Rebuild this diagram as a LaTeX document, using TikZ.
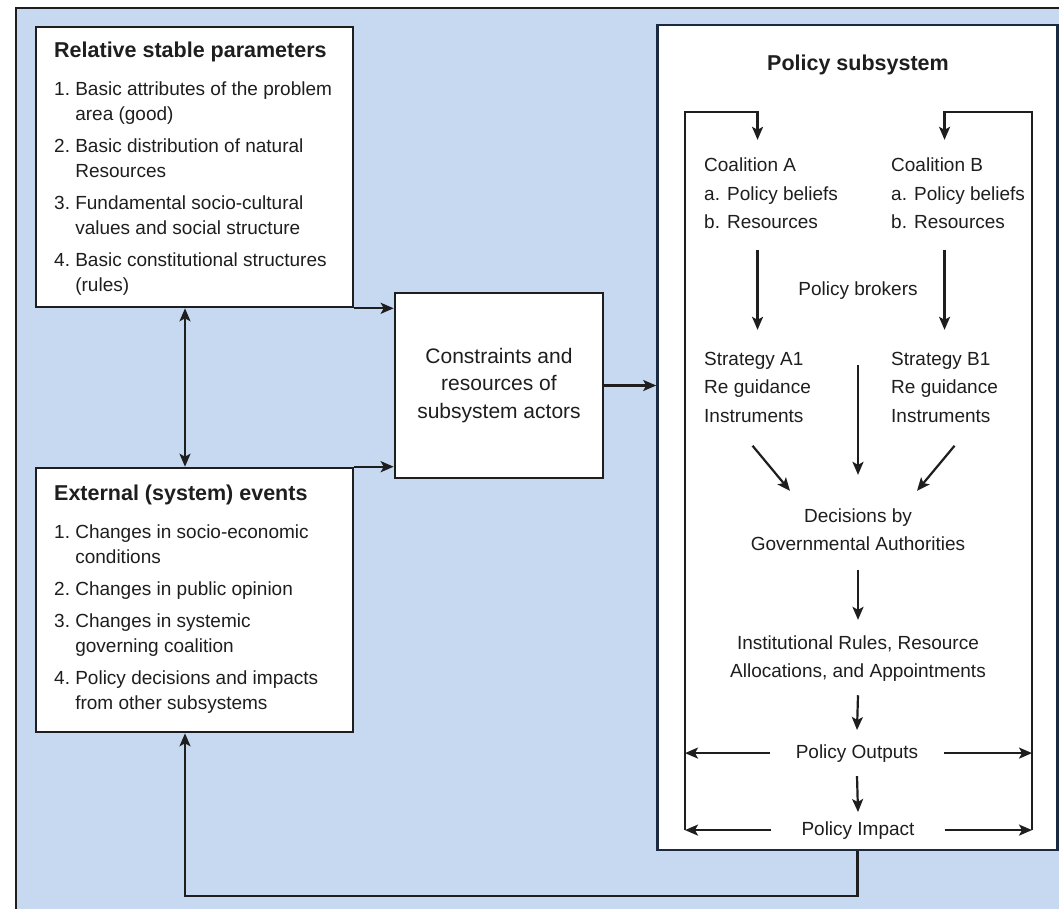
\documentclass[tikz,border=0pt]{standalone}
\usepackage{fontspec}
\setmainfont{Liberation Sans}
\usepackage{xcolor}
\usepackage{tikz}
\usetikzlibrary{arrows.meta}
\definecolor{bgblue}{HTML}{C6D9F1}
\definecolor{ink}{HTML}{1E1E1E}
\definecolor{navy}{HTML}{1B2A41}
\tikzset{
	box/.style={draw=ink, line width=2.6pt, fill=white},
	boxtitle/.style={font=\fontsize{21.5}{26}\selectfont\bfseries, text=ink, inner sep=0pt},
	boxitems/.style={font=\fontsize{19}{25}\selectfont, text=ink, inner sep=0pt},
	flowtxt/.style={font=\fontsize{19}{28.5}\selectfont, text=ink, inner xsep=0pt, inner ysep=9pt},
	link/.style={color=ink, line width=2.2pt, ->},
}
\newcommand{\leftcol}[1]{\begin{tabular}[t]{@{}l@{}}#1\end{tabular}}
\newcommand{\midcol}[1]{\begin{tabular}[t]{@{}c@{}}#1\end{tabular}}
\newcommand{\numlist}[1]{\begin{tabular}[t]{@{}l@{\ }l@{}}#1\end{tabular}}

\begin{document}
\begin{tikzpicture}[x=1pt, y=-1pt, >={Stealth[length=13pt,width=11pt,inset=3pt]}]
		\useasboundingbox (0,0) rectangle (1059,909);
		\fill[bgblue] (16,8) rectangle (1059,909);
		\draw[ink, line width=2pt] (16,909) -- (16,8) -- (1059,8);
		%
		\node[box, minimum width=317, minimum height=280] (RSP) at (194.5,167) {};
		\node[boxtitle, anchor=base west] (RSPt) at (54,58) {Relative stable parameters};
		\node[boxitems, anchor=base west] (RSPl) at (54,96) {\numlist{1. & Basic attributes of the problem\\ & area (good)\\[7pt] 2. & Basic distribution of natural\\ & Resources\\[7pt] 3. & Fundamental socio-cultural\\ & values and social structure\\[7pt] 4. & Basic constitutional structures\\ & (rules)}};
		%
		\node[box, minimum width=317, minimum height=264] (EXT) at (194.5,600) {};
		\node[boxtitle, anchor=base west] (EXTt) at (54,500) {External (system) events};
		\node[boxitems, anchor=base west] (EXTl) at (54,538) {\numlist{1. & Changes in socio-economic\\ & conditions\\[7pt] 2. & Changes in public opinion\\[7pt] 3. & Changes in systemic\\ & governing coalition\\[7pt] 4. & Policy decisions and impacts\\ & from other subsystems}};
		%
		\node[box, minimum width=208, minimum height=185, font=\fontsize{21}{27.5}\selectfont, text=ink, align=center] (CRS) at (499,385.5) {Constraints and\\resources of\\subsystem actors};
		%
		\node[box, draw=navy, minimum width=400, minimum height=825] (PS) at (857.5,437.5) {};
		\node[boxtitle, anchor=base] (PSt) at (858,71) {Policy subsystem};
		\node[flowtxt, anchor=base west, inner ysep=12pt] (CA) at (704,172) {\leftcol{Coalition A\\ a. Policy beliefs\\ b. Resources}};
		\node[flowtxt, anchor=base west, inner ysep=12pt] (CB) at (891,172) {\leftcol{Coalition B\\ a. Policy beliefs\\ b. Resources}};
		\node[flowtxt, anchor=base] (PB) at (858,295) {Policy brokers};
		\node[flowtxt, anchor=base west, inner ysep=15pt] (SA) at (704,365) {\leftcol{Strategy A1\\ Re guidance\\ Instruments}};
		\node[flowtxt, anchor=base west, inner ysep=15pt] (SB) at (891,365) {\leftcol{Strategy B1\\ Re guidance\\ Instruments}};
		\node[flowtxt, anchor=base, inner ysep=11pt] (DG) at (858,522) {\midcol{Decisions by\\ Governmental Authorities}};
		\node[flowtxt, anchor=base] (IR) at (858,649) {\midcol{Institutional Rules, Resource\\ Allocations, and Appointments}};
		\node[flowtxt, anchor=base, inner xsep=26pt, inner ysep=14pt] (PO) at (857,758) {Policy Outputs};
		\node[flowtxt, anchor=base, inner xsep=30pt] (PI) at (858,835) {Policy Impact};
		%
		\coordinate (LL) at (685,112);
		\coordinate (LR) at (1032,112);
		\coordinate (FB) at (185,896);
		%
		\path[link]
		(RSP.south east) edge (RSP.south east -| CRS.west)
		(EXT.north east) edge (EXT.north east -| CRS.west)
		(CRS.east) edge (CRS.east -| PS.west)
		(RSP.south -| FB) edge[<->] (EXT.north -| FB)
		(CA.south -| SA.north) edge (SA.north)
		(CB.south -| SB.north) edge (SB.north)
		([xshift=-5pt]SA.south) edge ([xshift=-68pt]DG.north)
		([xshift=10pt]SB.south) edge ([xshift=59pt]DG.north)
		(PB.south |- SA.base) edge[shorten >=16pt] (DG.north)
		(DG.south) edge (IR.north)
		(IR.south) edge (PO.north)
		(PO.south) edge (PI.north)
		(PO.west) edge (PO.west -| LL)
		(PO.east) edge (PO.east -| LR)
		(PI.west) edge (PI.west -| LL)
		(PI.east) edge (PI.east -| LR);
		%
		\draw[link] (PI.west -| LL) -- (LL) -| (CA.north -| SA.north);
		\draw[link] (PI.east -| LR) -- (LR) -| (CB.north -| SB.north);
		\draw[link] (PS.south) |- (FB) -- (EXT.south -| FB);
\end{tikzpicture}
\end{document}
